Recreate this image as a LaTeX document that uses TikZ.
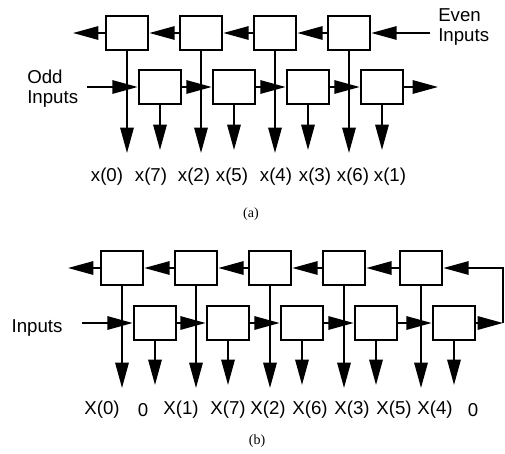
\documentclass[tikz,border=0pt]{standalone}
\usepackage{fontspec}
\setmainfont{Liberation Serif}
\setsansfont{Liberation Sans}
\usetikzlibrary{arrows.meta}

\tikzset{
  cell/.style={draw, line width=1.5pt, minimum width=32pt, minimum height=26pt, inner sep=0pt},
  flow/.style={line width=1.5pt, -{Triangle[length=19pt,width=10pt]}},
  lab/.style={font=\sffamily\fontsize{14}{15}\selectfont, inner sep=0pt},
  capt/.style={font=\fontsize{10.5}{11}\selectfont, inner sep=0pt}
}

\begin{document}
\begin{tikzpicture}[x=0.75pt,y=0.75pt,yscale=-1,xscale=1]
\useasboundingbox (0,0) rectangle (505,453);

%%%%% (a)
% Cells
\foreach \i/\x in {1/127,2/201,3/275,4/349} {
  \node [cell] (ta\i) at (\x,33) {};
  \coordinate (ea\i) at (\x,153);
}
\foreach \i/\x in {1/160,2/234,3/308,4/382} {
  \node [cell] (ba\i) at (\x,87) {};
  \coordinate (fa\i) at (\x,150);
}
\coordinate (outa) at (73,33);
\coordinate (ina) at (430,33);
\coordinate (odda) at (87,87);
\coordinate (enda) at (438,87);

% Straight Lines
\draw [flow] (ta1.west) -- (outa);
\draw [flow] (ina) -- (ta4.east);
\draw [flow] (odda) -- (ba1.west);
\draw [flow] (ba4.east) -- (enda);
\foreach \i/\j in {1/2,2/3,3/4} {
  \draw [flow] (ta\j.west) -- (ta\i.east);
  \draw [flow] (ba\i.east) -- (ba\j.west);
}
\foreach \i in {1,...,4} {
  \draw [flow] (ta\i.south) -- (ea\i);
  \draw [flow] (ba\i.south) -- (fa\i);
}

% Text Node
\node [lab, anchor=west, align=left] (even) at (438,27) {Even\\Inputs};
\node [lab, anchor=west, align=left] (odd) at (27,89) {Odd\\Inputs};
\foreach \t/\x [count=\k] in {x(0)/107,x(7)/151,x(2)/194,x(5)/232,x(4)/276,x(3)/315,x(6)/353,x(1)/390}
  \node [lab] (la\k) at (\x,177) {\t};
\node [capt] (capa) at (251,214) {(a)};

%%%%% (b)
% Cells
\foreach \i/\x in {1/122,2/196,3/270,4/344,5/421} {
  \node [cell] (tb\i) at (\x,268) {};
  \coordinate (eb\i) at (\x,388);
}
\foreach \i/\x in {1/155,2/228,3/302,4/376,5/454} {
  \node [cell] (bb\i) at (\x,323) {};
  \coordinate (fb\i) at (\x,385);
}
\coordinate (outb) at (68,268);
\coordinate (inb) at (82,323);
\coordinate (loop) at (503,323);

% Straight Lines
\draw [flow] (tb1.west) -- (outb);
\draw [flow] (inb) -- (bb1.west);
\draw [flow] (bb5.east) -- (loop);
\draw [flow] (loop) |- (tb5.east);
\foreach \i/\j in {1/2,2/3,3/4,4/5} {
  \draw [flow] (tb\j.west) -- (tb\i.east);
  \draw [flow] (bb\i.east) -- (bb\j.west);
}
\foreach \i in {1,...,5} {
  \draw [flow] (tb\i.south) -- (eb\i);
  \draw [flow] (bb\i.south) -- (fb\i);
}

% Text Node
\node [lab] (inp) at (37,328) {Inputs};
\foreach \t/\x [count=\k] in {X(0)/102,0/143,X(1)/181,X(7)/228,X(2)/268,X(6)/310,X(3)/352,X(5)/394,X(4)/435,0/473}
  \node [lab] (lb\k) at (\x,410) {\t};
\node [capt] (capb) at (257,441) {(b)};

\end{tikzpicture}
\end{document}
